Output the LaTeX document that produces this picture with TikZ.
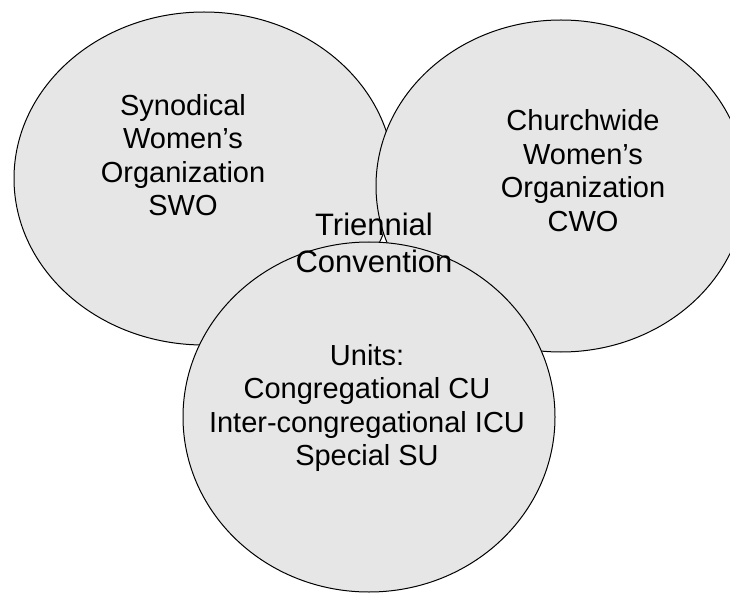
\documentclass[tikz,border=0pt]{standalone}
\usepackage{fontspec}
\setmainfont{Liberation Sans}
\definecolor{circfill}{RGB}{230,230,230}
\begin{document}
\begin{tikzpicture}[x=1pt,y=-1pt,
  circ/.style={draw=black,fill=circfill,line width=1pt},
  lbl/.style={align=center,inner sep=0pt,font=\fontsize{29}{33.5}\selectfont},
  biglbl/.style={align=center,inner sep=0pt,font=\fontsize{31}{37}\selectfont}]
\useasboundingbox (0,0) rectangle (730,593);
\path[circ] (204,178.5) ellipse [x radius=190, y radius=166.5];
\path[circ] (561,186) ellipse [x radius=185, y radius=166];
\path[circ] (369,417) ellipse [x radius=186, y radius=175];
\node[lbl] (swo) at (183,155) {Synodical\\Women’s\\Organization\\SWO};
\node[lbl] (cwo) at (583,170.5) {Churchwide\\Women’s\\Organization\\CWO};
\node[lbl] (units) at (367,408) {Units:\\Congregational CU\\Inter-congregational ICU\\Special SU};
\node[biglbl] (tc) at (374,242.5) {Triennial\\Convention};
\end{tikzpicture}
\end{document}
